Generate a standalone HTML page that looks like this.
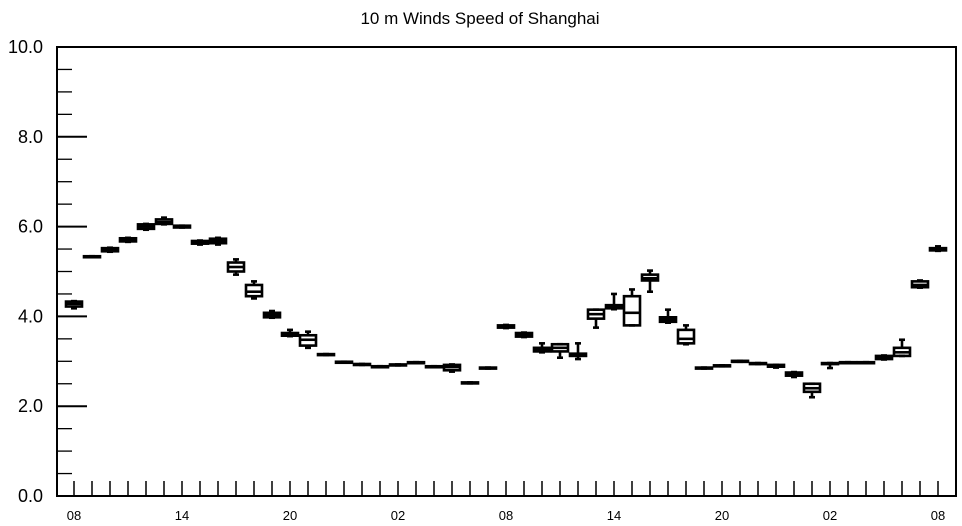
<!DOCTYPE html>
<html><head><meta charset="utf-8"><style>
body{margin:0;background:#fff;}
svg{display:block;font-family:"Liberation Sans",sans-serif;}
</style></head><body>
<svg id="chart" width="962" height="526" viewBox="0 0 962 526" xmlns="http://www.w3.org/2000/svg">
<text x="480" y="24" text-anchor="middle" font-size="17">10 m Winds Speed of Shanghai</text>
<g id="axes"></g><g id="boxes"></g>
</svg>
<script>
const medians=[4.28,5.33,5.48,5.7,6.0,6.1,6.0,5.65,5.68,5.1,4.55,4.03,3.6,3.48,3.15,2.98,2.93,2.88,2.92,2.97,2.88,2.87,2.52,2.85,3.78,3.58,3.27,3.3,3.15,4.05,4.2,4.08,4.85,3.93,3.5,2.85,2.9,3.0,2.95,2.9,2.72,2.4,2.95,2.97,2.97,3.08,3.2,4.7,5.5];
const q1s=[4.22,5.32,5.45,5.67,5.95,6.06,5.98,5.62,5.63,5.0,4.45,3.98,3.57,3.35,3.14,2.97,2.92,2.87,2.91,2.96,2.87,2.8,2.51,2.84,3.75,3.55,3.22,3.22,3.12,3.95,4.18,3.8,4.8,3.88,3.4,2.84,2.89,2.99,2.94,2.88,2.68,2.32,2.94,2.96,2.96,3.05,3.12,4.65,5.47];
const q3s=[4.33,5.34,5.52,5.74,6.05,6.16,6.02,5.68,5.73,5.2,4.7,4.08,3.63,3.58,3.16,2.99,2.94,2.89,2.93,2.98,2.89,2.92,2.53,2.86,3.8,3.63,3.3,3.38,3.17,4.15,4.25,4.45,4.93,3.98,3.7,2.86,2.91,3.01,2.96,2.92,2.75,2.5,2.96,2.98,2.98,3.12,3.3,4.78,5.52];
const mins=[4.18,5.32,5.44,5.66,5.93,6.05,5.98,5.6,5.6,4.93,4.4,3.97,3.56,3.3,3.14,2.97,2.92,2.87,2.91,2.96,2.87,2.77,2.51,2.84,3.74,3.54,3.2,3.08,3.05,3.75,4.16,3.8,4.55,3.86,3.38,2.84,2.89,2.99,2.94,2.86,2.65,2.2,2.85,2.96,2.96,3.04,3.12,4.64,5.46];
const maxs=[4.34,5.34,5.53,5.75,6.06,6.2,6.02,5.69,5.75,5.27,4.78,4.12,3.7,3.66,3.16,2.99,2.94,2.89,2.93,2.98,2.89,2.93,2.53,2.86,3.81,3.64,3.4,3.38,3.4,4.15,4.5,4.6,5.02,4.15,3.8,2.86,2.91,3.01,2.96,2.92,2.76,2.5,2.96,2.98,2.98,3.13,3.48,4.8,5.56];
const yTicks=[0,2,4,6,8,10];
const yTickLabels=["0.0","2.0","4.0","6.0","8.0","10.0"];
const xTickLabels=["08","14","20","02","08","14","20","02","08"];
const NS="http://www.w3.org/2000/svg";
const L=57,R=956,T=47,B=496,X0=74,DX=18;
const y=v=>B-(B-T)*v/10, x=i=>X0+DX*i;
function mk(p,tag,at){const e=document.createElementNS(NS,tag);for(const k in at)e.setAttribute(k,at[k]);p.appendChild(e);return e;}
const ax=document.getElementById('axes'),bx=document.getElementById('boxes');
const frame=mk(ax,'rect',{x:L,y:T,width:R-L,height:B-T,fill:'none',stroke:'#000','stroke-width':2});


for(let v=0;v<=10.001;v+=0.5){const maj=Math.abs(v/2-Math.round(v/2))<1e-6;
 const t=mk(ax,'line',{x1:L,x2:L+(maj?30:15),y1:y(v),y2:y(v),stroke:'#000','stroke-width':maj?2:1.3});
 
 }
yTicks.forEach((v,i)=>{const t=mk(ax,'text',{x:L-14,y:y(v)+6,'text-anchor':'end','font-size':18});t.textContent=yTickLabels[i];
 
 });
for(let i=0;i<medians.length;i++){const t=mk(ax,'line',{x1:x(i),x2:x(i),y1:B,y2:B-15,stroke:'#000','stroke-width':1.5});
 
 }
xTickLabels.forEach((s,i)=>{const t=mk(ax,'text',{x:x(i*6),y:B+24,'text-anchor':'middle','font-size':13});t.textContent=s;
 
 });
const hw=8;
medians.forEach((m,i)=>{const g=mk(bx,'g',{stroke:'#000','stroke-width':2.6,fill:'none'});
 
 
 const cx=x(i);
 mk(g,'line',{x1:cx,x2:cx,y1:y(maxs[i]),y2:y(q3s[i])});
 mk(g,'line',{x1:cx,x2:cx,y1:y(q1s[i]),y2:y(mins[i])});
 mk(g,'line',{x1:cx-3,x2:cx+3,y1:y(maxs[i]),y2:y(maxs[i])});
 mk(g,'line',{x1:cx-3,x2:cx+3,y1:y(mins[i]),y2:y(mins[i])});
 const h=Math.max(y(q1s[i])-y(q3s[i]),1);
 mk(g,'rect',{x:cx-hw,y:y(q3s[i]),width:2*hw,height:h});
 mk(g,'line',{x1:cx-hw,x2:cx+hw,y1:y(m),y2:y(m)});
});
</script>
</body></html>
